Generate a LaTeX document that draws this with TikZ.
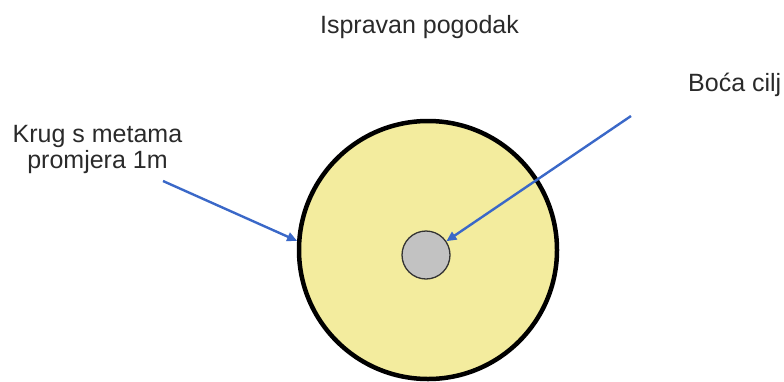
\documentclass[tikz,border=0pt]{standalone}
\usepackage{fontspec}
\setmainfont{Liberation Sans}
\usetikzlibrary{arrows.meta}
\definecolor{ringfill}{HTML}{F3EC9E}
\definecolor{bottlefill}{HTML}{C2C2C2}
\definecolor{arrowblue}{HTML}{3A68C8}
\definecolor{txt}{HTML}{2A2A2A}
\tikzset{
  lbl/.style={font=\fontsize{25}{26}\selectfont, text=txt, inner sep=0pt, align=center},
  pointer/.style={draw=arrowblue, line width=2.4pt, -{Triangle[length=10pt,width=9pt]}},
}
\begin{document}
\begin{tikzpicture}[x=1pt,y=-1pt]
\useasboundingbox (0,0) rectangle (784,381);
\node[circle, draw=black, line width=4.5pt, fill=ringfill, minimum size=258pt, inner sep=0pt] (big) at (428,250) {};
\node[circle, draw=black!80, line width=1.3pt, fill=bottlefill, minimum size=48pt, inner sep=0pt] (bottle) at (426,255) {};
\node[lbl, anchor=base] (title) at (419.5,33) {Ispravan pogodak};
\node[lbl, anchor=base] (krug) at (97.5,168) {Krug s metama\\promjera 1m};
\node[lbl, anchor=base west] (boca) at (688,91) {Boća cilj};
\coordinate (s1) at (163,181);
\coordinate (s2) at (631,116);
\draw[pointer] (s1) -- (big.176);
\draw[pointer] (s2) -- (bottle);
\end{tikzpicture}
\end{document}
